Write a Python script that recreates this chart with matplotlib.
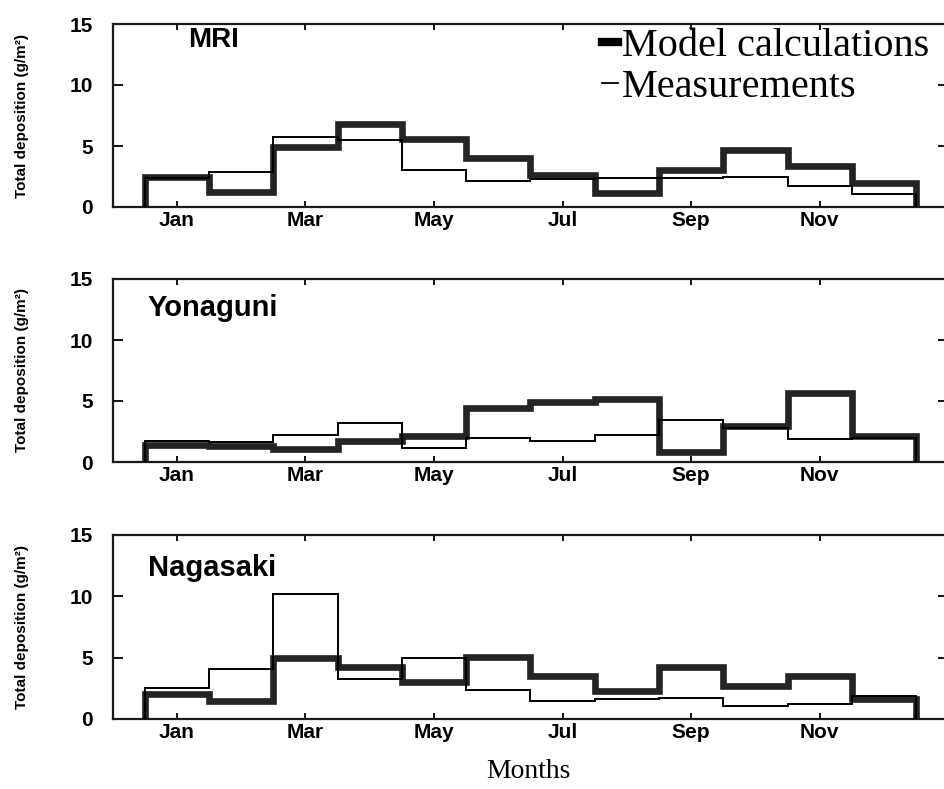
#!/usr/bin/env python3

import numpy as np
import matplotlib
matplotlib.use("Agg")
import matplotlib.pyplot as plt
from matplotlib.lines import Line2D

plt.rcParams['font.family'] = ['Liberation Sans', 'DejaVu Sans']

# month bins 1..12, labels only on odd months
month_labels = ['Jan', 'Mar', 'May', 'Jul', 'Sep', 'Nov']
month_ticks = [1, 3, 5, 7, 9, 11]
edges = np.arange(0.5, 13.0, 1.0)

stations = ['MRI', 'Yonaguni', 'Nagasaki']

mri_model = [2.5, 1.25, 4.9, 6.8, 5.6, 4.0, 2.6, 1.15, 3.05, 4.7, 3.35, 2.0]
mri_meas = [2.35, 2.85, 5.7, 5.5, 3.0, 2.15, 2.3, 2.35, 2.4, 2.45, 1.75, 1.05]

yon_model = [1.4, 1.35, 1.05, 1.7, 2.15, 4.4, 4.95, 5.15, 0.85, 2.95, 5.65, 2.15]
yon_meas = [1.75, 1.6, 2.25, 3.2, 1.15, 1.95, 1.75, 2.25, 3.45, 2.8, 1.9, 2.0]

nag_model = [2.0, 1.45, 4.95, 4.25, 3.0, 5.05, 3.5, 2.25, 4.25, 2.7, 3.5, 1.65]
nag_meas = [2.5, 4.05, 10.15, 3.3, 5.0, 2.35, 1.45, 1.65, 1.72, 1.1, 1.2, 1.9]


def panel(fig, rect, name, model, meas, name_pos, name_size):
    ax = fig.add_axes(rect)
    ax.stairs(model, edges, baseline=0, color='#242424', lw=4.8,
              joinstyle='miter', capstyle='butt', clip_on=False, zorder=2)
    ax.stairs(meas, edges, baseline=0, color='black', lw=1.4,
              joinstyle='miter', zorder=3)
    ax.set_xlim(0, 13)
    ax.set_ylim(0, 15)
    ax.set_xticks(month_ticks)
    ax.set_xticklabels(month_labels)
    ax.set_yticks([0, 5, 10, 15])
    ax.tick_params(axis='y', direction='in', length=7, width=1.3,
                   left=True, right=True, pad=14, labelsize=15)
    ax.tick_params(axis='x', direction='in', length=4, width=1.3,
                   top=True, bottom=True, pad=3, labelsize=15)
    for lab in ax.get_xticklabels() + ax.get_yticklabels():
        lab.set_fontweight('bold')
    for sp in ax.spines.values():
        sp.set_linewidth(1.6)
        sp.set_color('#1a1a1a')
    ax.text(name_pos[0], name_pos[1], name, fontsize=name_size,
            fontweight='bold', ha='left', va='top')
    ycen = rect[1] + rect[3] / 2
    fig.text(22 / 944, ycen, 'Total deposition (g/m²)', rotation=90,
             ha='center', va='center', fontsize=11, fontweight='bold')
    return ax


def main():
    W, H = 944, 789
    fig = plt.figure(figsize=(W / 100, H / 100), dpi=100)

    left = 112.5 / W
    width = (948.3 - 112.5) / W
    # (top px, bottom px) of each panel
    spans = [(24, 207), (279, 462), (535, 719)]
    data = [(mri_model, mri_meas, (1.17, 14.75), 20),
            (yon_model, yon_meas, (0.55, 13.75), 21),
            (nag_model, nag_meas, (0.55, 13.45), 21)]

    axes = []
    for (top, bot), name, (model, meas, pos, size) in zip(spans, stations, data):
        rect = [left, 1 - bot / H, width, (bot - top) / H]
        axes.append(panel(fig, rect, name, model, meas, pos, size))

    handles = [Line2D([], [], color='black', lw=6),
               Line2D([], [], color='black', lw=1.3)]
    axes[0].legend(handles, ['Model calculations', 'Measurements'],
                   loc='upper right', bbox_to_anchor=(929 / W, 1 - 28 / H),
                   bbox_transform=fig.transFigure, frameon=False,
                   prop={'family': 'Liberation Serif', 'size': 29},
                   handlelength=0.4, handletextpad=0.1, labelspacing=0.08,
                   borderpad=0, borderaxespad=0)

    fig.text(528 / W, 1 - 772 / H, 'Months', family='Liberation Serif',
             fontsize=20, ha='center', va='center')

    fig.savefig('out.png', dpi=100)


if __name__ == "__main__":
    main()
